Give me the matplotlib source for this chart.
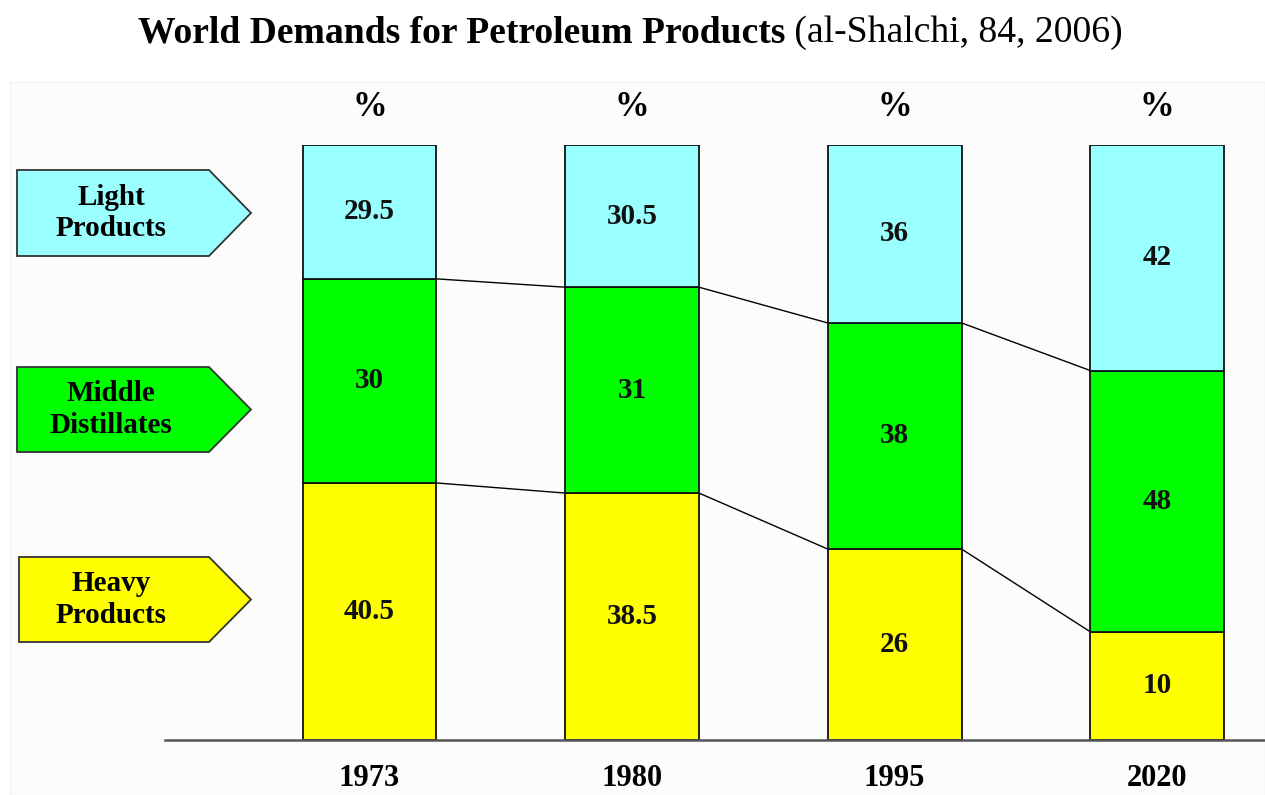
import matplotlib
matplotlib.use("Agg")
import matplotlib.pyplot as plt
from matplotlib.patches import Polygon, Rectangle

# --- Data ---
years = ["1973", "1980", "1995", "2020"]
label_names = ["Light\nProducts", "Middle\nDistillates", "Heavy\nProducts"]

# printed shares (%)
light_pct = [29.5, 30.5, 36, 42]
middle_pct = [30, 31, 38, 48]
heavy_pct = [40.5, 38.5, 26, 10]

# segment heights as drawn in the source (the figure is not to scale)
heavy_drawn = [43.2, 41.5, 32.1, 18.2]
middle_drawn = [34.3, 34.6, 38.0, 43.9]
light_drawn = [22.5, 23.9, 29.9, 37.9]

# --- Style ---
W, H = 1265, 795
C_LIGHT = "#99ffff"
C_MID = "#00ff00"
C_HEAVY = "#ffff00"
SERIF = "Liberation Serif"
BAR_W = 0.51


def px(x, y):
    """pixel (top-left origin) -> figure fraction"""
    return x / W, 1 - y / H


fig = plt.figure(figsize=(W / 100, H / 100), dpi=100)
fig.patch.set_facecolor("white")

# faint panel behind the chart
x0, y0 = px(10, 82)
fig.patches.append(Rectangle((x0, 0), 1 - x0, y0, transform=fig.transFigure,
                             facecolor="#fcfcfc", edgecolor="#f2f2f2", lw=1, zorder=-5))

# --- Bars ---
ax = fig.add_axes([165 / W, 55 / H, 1100 / W, 595 / H])
ax.set_facecolor("none")
ax.set_zorder(1)
ax.set_xlim(-0.779, 3.411)
ax.set_ylim(0, 100)

x = list(range(len(years)))
b_mid = heavy_drawn
b_light = [h + m for h, m in zip(heavy_drawn, middle_drawn)]

ax.bar(x, heavy_drawn, BAR_W, color=C_HEAVY, edgecolor="#111", lw=1.3, zorder=2)
ax.bar(x, middle_drawn, BAR_W, bottom=b_mid, color=C_MID, edgecolor="#111", lw=1.3, zorder=2)
ax.bar(x, light_drawn, BAR_W, bottom=b_light, color=C_LIGHT, edgecolor="#111", lw=1.3, zorder=2)

# connector lines between segment boundaries
for i in range(len(years) - 1):
    for bnd in (b_mid, b_light):
        ax.plot([i + BAR_W / 2, i + 1 - BAR_W / 2], [bnd[i], bnd[i + 1]],
                color="black", lw=1.0, zorder=1)

# value labels
for i in range(len(years)):
    segs = [(heavy_pct[i], 0, heavy_drawn[i]),
            (middle_pct[i], b_mid[i], middle_drawn[i]),
            (light_pct[i], b_light[i], light_drawn[i])]
    for val, bot, h in segs:
        ax.text(i, bot + h / 2, f"{val:g}", ha="center", va="center",
                fontsize=21, fontweight="bold", family=SERIF, color="#111", zorder=3)
    ax.text(i, 106.3, "%", ha="center", va="center", fontsize=25,
            fontweight="bold", family=SERIF, clip_on=False)

ax.set_xticks(x)
ax.set_xticklabels(years, fontsize=22, fontweight="bold", family=SERIF)
ax.tick_params(axis="x", length=0, pad=17)
ax.set_yticks([])
for s in ("left", "right", "top"):
    ax.spines[s].set_visible(False)
ax.spines["bottom"].set_color("#555")
ax.spines["bottom"].set_linewidth(1.8)

# --- Arrow-shaped category labels ---
boxes = [(17, 170, 256), (17, 367, 452), (19, 557, 642)]
box_colors = [C_LIGHT, C_MID, C_HEAVY]
for (left, top, bot), col, name in zip(boxes, box_colors, label_names):
    mid = (top + bot) / 2
    pts = [px(left, top), px(209, top), px(251, mid), px(209, bot), px(left, bot)]
    fig.patches.append(Polygon(pts, closed=True, transform=fig.transFigure,
                               facecolor=col, edgecolor="#333", lw=1.3, zorder=2))
    tx, ty = px(111, mid)
    fig.text(tx, ty, name, ha="center", va="center", fontsize=21,
             fontweight="bold", family=SERIF, linespacing=1.2, zorder=3)

# --- Title (bold part + normal part, fitted to the source width) ---
bold_part = "World Demands for Petroleum Products"
norm_part = " (al-Shalchi, 84, 2006)"
r = fig.canvas.get_renderer()
t1 = fig.text(0, 0, bold_part, fontsize=20, fontweight="bold", family=SERIF)
t2 = fig.text(0, 0, norm_part, fontsize=20, family=SERIF)
w_total = t1.get_window_extent(r).width + t2.get_window_extent(r).width
fs = 20 * 984 / w_total
t1.set_fontsize(fs)
t2.set_fontsize(fs)
w1 = t1.get_window_extent(r).width
w2 = t2.get_window_extent(r).width
start = 630 - (w1 + w2) / 2
ty = 1 - 33 / H
t1.set_position((start / W, ty))
t1.set_va("center")
t2.set_position(((start + w1) / W, ty))
t2.set_va("center")

fig.savefig("out.png", dpi=100)
